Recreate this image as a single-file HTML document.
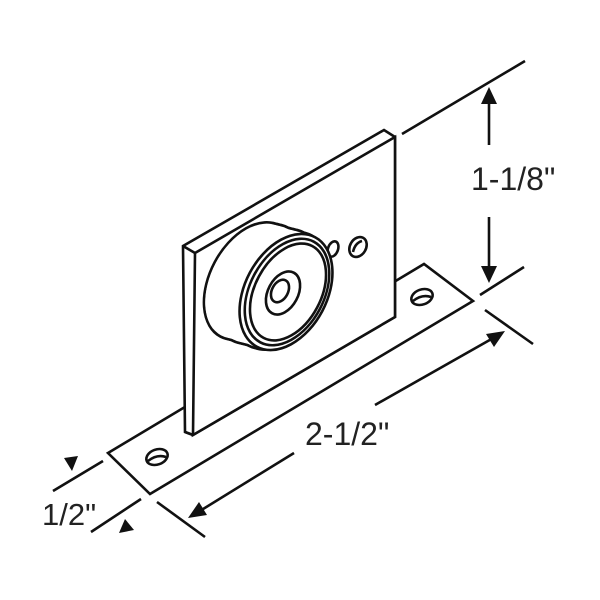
<!DOCTYPE html>
<html><head><style>
html,body{margin:0;padding:0;background:#fff;}
svg{display:block;}
text{font-family:"Liberation Sans",Arial,sans-serif;fill:#222;}
</style></head><body>
<svg width="600" height="600" viewBox="0 0 600 600" xmlns="http://www.w3.org/2000/svg">
<defs>
<ellipse id="we" cx="0" cy="0" rx="40" ry="63" transform="rotate(28)"/>
<ellipse id="wi" cx="0" cy="0" rx="38.6" ry="61.6" transform="rotate(28)"/>
</defs>
<g fill="none" stroke="#111" stroke-width="2.6" stroke-linejoin="miter" stroke-linecap="butt">
<polygon points="108,453 424,264 473,301 150,494" fill="#fff"/>
<ellipse cx="157" cy="457" rx="11" ry="7.5" transform="rotate(-20 157 457)"/>
<path d="M148,461 q9,-7 18,-4"/>
<ellipse cx="422" cy="297" rx="11" ry="7.5" transform="rotate(-20 422 297)"/>
<path d="M413,301 q9,-7 18,-4"/>
<polygon points="183,246 384,130 395,137 395,317 193,435 185,432" fill="#fff"/>
<polygon points="195,253 395,137 395,317 193,435" fill="#fff"/>
<line x1="183" y1="246" x2="195" y2="253"/>
<line x1="185" y1="432" x2="193" y2="435"/>
<g>
<use href="#we" x="250" y="281"/><use href="#we" x="254" y="282"/><use href="#we" x="258" y="283"/>
<use href="#we" x="262" y="285"/><use href="#we" x="266" y="286"/><use href="#we" x="270" y="287"/>
<use href="#we" x="274" y="288"/><use href="#we" x="278" y="290"/><use href="#we" x="282" y="291"/>
</g>
<g fill="#fff" stroke="none">
<use href="#wi" x="250" y="281"/><use href="#wi" x="254" y="282"/><use href="#wi" x="258" y="283"/>
<use href="#wi" x="262" y="285"/><use href="#wi" x="266" y="286"/><use href="#wi" x="270" y="287"/>
<use href="#wi" x="274" y="288"/><use href="#wi" x="278" y="290"/><use href="#wi" x="282" y="291"/>
</g>
<ellipse cx="333" cy="249" rx="5" ry="8" transform="rotate(20 333 249)" fill="#fff"/>
<ellipse cx="286" cy="292" rx="41" ry="62" transform="rotate(28 286 292)" fill="#fff"/>
<ellipse cx="287" cy="292" rx="37" ry="57" transform="rotate(28 287 292)"/>
<ellipse cx="288" cy="292" rx="33" ry="52" transform="rotate(28 288 292)"/>
<ellipse cx="283" cy="293" rx="15" ry="23" transform="rotate(28 283 293)"/>
<ellipse cx="280" cy="291" rx="8" ry="12" transform="rotate(28 280 291)"/>
<ellipse cx="358" cy="247" rx="8" ry="10.5" transform="rotate(30 358 247)"/>
<path d="M353,252 q2,-9 9,-11"/>
<line x1="402" y1="134" x2="525" y2="61"/>
<line x1="480" y1="295" x2="524" y2="267"/>
<line x1="489" y1="100" x2="489" y2="145"/>
<line x1="489" y1="217" x2="489" y2="272"/>
<line x1="485" y1="310" x2="533" y2="344"/>
<line x1="157" y1="502" x2="205" y2="537"/>
<line x1="195" y1="514" x2="294" y2="453"/>
<line x1="375" y1="405" x2="495" y2="337"/>
<line x1="53" y1="491" x2="103" y2="461"/>
<line x1="91" y1="532" x2="141" y2="499"/>
</g>
<g fill="#111">
<polygon points="489,87 481,104 497,104"/>
<polygon points="489,283 481,266 497,266"/>
<polygon points="505,331 486,334 494,347"/>
<polygon points="188,518 207,515 199,502"/>
<polygon points="72,471 64,458 78,456"/>
<polygon points="125,519 119,533 134,530"/>
</g>
<text x="471" y="190" font-size="32">1-1/8"</text>
<text x="305" y="445" font-size="32">2-1/2"</text>
<text x="42" y="525" font-size="31">1/2"</text>
</svg>
</body></html>
